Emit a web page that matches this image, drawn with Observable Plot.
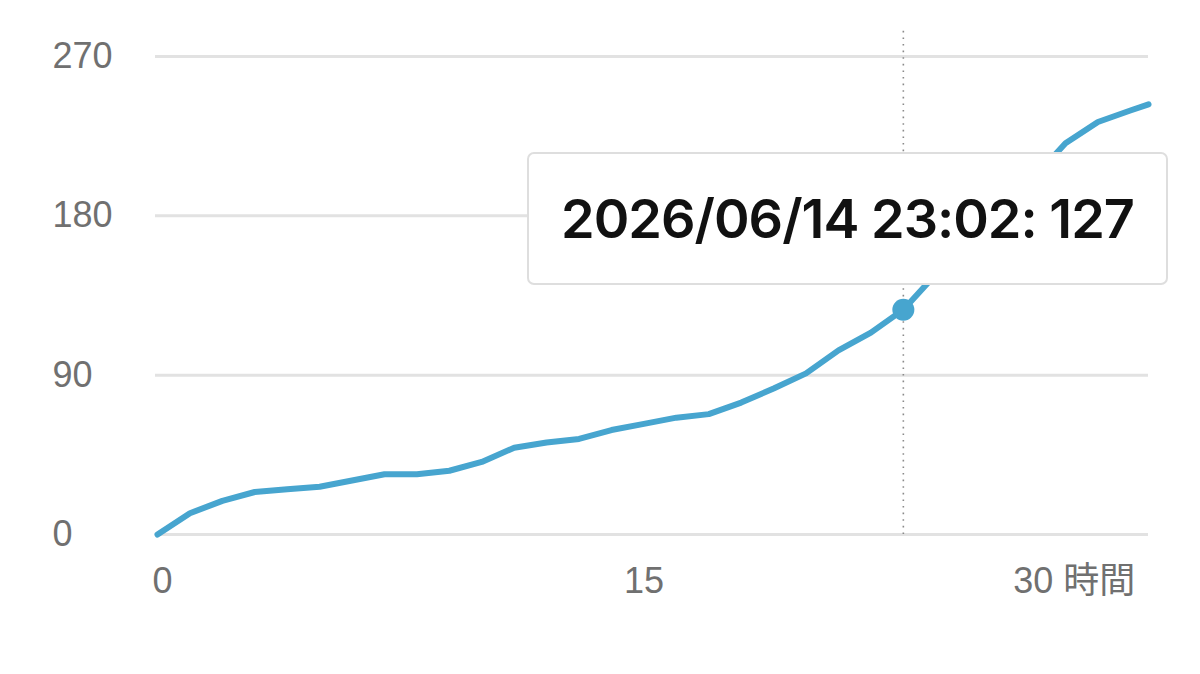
<!DOCTYPE html>
<html>
<head>
<meta charset="utf-8">
<script src="https://cdn.jsdelivr.net/npm/d3@7"></script>
<script src="https://cdn.jsdelivr.net/npm/@observablehq/plot@0.6"></script>
<style>
  html, body { margin: 0; padding: 0; background: #fff; }
  #wrap { position: relative; width: 1200px; height: 674px; overflow: hidden; }
  #tip {
    position: absolute; left: 527px; top: 152px; width: 641px; height: 133px;
    background: #fff; border: 2px solid #dedede; border-radius: 7px;
    display: flex; align-items: center; justify-content: center;
    font-family: Inter, "Liberation Sans", Arial, "Noto Sans CJK JP", sans-serif;
    font-weight: 600; font-size: 54px; color: #111; letter-spacing: -1px;
    padding-top: 0px; box-sizing: border-box;
  }
</style>
</head>
<body>
<div id="wrap"></div>
<script>
// Elapsed hours and cumulative count
const hours  = [0, 1, 2, 3, 4, 5, 6, 7, 8, 9, 10, 11, 12, 13, 14, 15, 16, 17, 18, 19, 20, 21, 22, 23, 24, 25, 26, 27, 28, 29, 30, 30.56];
const counts = [0, 12, 19, 24, 25.5, 27, 30.5, 34, 34, 36, 41, 49, 52, 54, 59, 62.5, 66, 68, 74.5, 82.5, 91, 104, 114, 127, 147, 165, 183, 201, 221, 233, 239.5, 243];
const yTicks = [0, 90, 180, 270];
const xTicks = [0, 15, 30];
const xTickLabels = ["0", "15", "30 時間"];
const highlightIndex = 23;
const tooltipLabel = "2026/06/14 23:02";

const data = hours.map((h, i) => ({h, v: counts[i]}));
const hl = data[highlightIndex];

const font = "'Liberation Sans', Arial, 'Noto Sans CJK JP', sans-serif";
const gray = "#707070";

const xLabel = (i) => ({tick: xTicks[i], label: xTickLabels[i]});

const chart = Plot.plot({
  width: 1200,
  height: 674,
  marginLeft: 157,
  marginRight: 52,
  marginTop: 56,
  marginBottom: 140,
  style: {fontFamily: font, background: "#fff", overflow: "visible"},
  x: {domain: [0, hours[hours.length - 1]], axis: null},
  y: {domain: [0, 270], axis: null},
  marks: [
    Plot.ruleY(yTicks, {stroke: "#e2e2e2", strokeWidth: 3, x1: 0, x2: hours[hours.length - 1], insetLeft: -2}),
    Plot.text(yTicks, {y: d => d, frameAnchor: "left", textAnchor: "start", dx: -105, fontSize: 36, fill: gray, text: d => String(d)}),
    Plot.text([xLabel(0)], {x: "tick", text: "label", frameAnchor: "bottom", dy: 58, textAnchor: "start", dx: -5, fontSize: 36, fill: gray}),
    Plot.text([xLabel(1)], {x: "tick", text: "label", frameAnchor: "bottom", dy: 58, textAnchor: "middle", fontSize: 36, fill: gray}),
    Plot.text([xLabel(2)], {x: "tick", text: "label", frameAnchor: "bottom", dy: 58, textAnchor: "end", dx: 5, fontSize: 36, fill: gray}),
    Plot.ruleX([hl], {x: "h", y1: 0, y2: 286, stroke: "#8a8a8a", strokeWidth: 1.6, strokeDasharray: "1.6,5"}),
    Plot.line(data, {x: "h", y: "v", stroke: "#47a5cf", strokeWidth: 6, strokeLinejoin: "round"}),
    Plot.dot([hl], {x: "h", y: "v", r: 11, fill: "#47a5cf", stroke: "none"})
  ]
});

const wrap = document.getElementById("wrap");
wrap.appendChild(chart);
const tip = document.createElement("div");
tip.id = "tip";
tip.textContent = `${tooltipLabel}: ${counts[highlightIndex]}`;
wrap.appendChild(tip);
</script>
</body>
</html>
